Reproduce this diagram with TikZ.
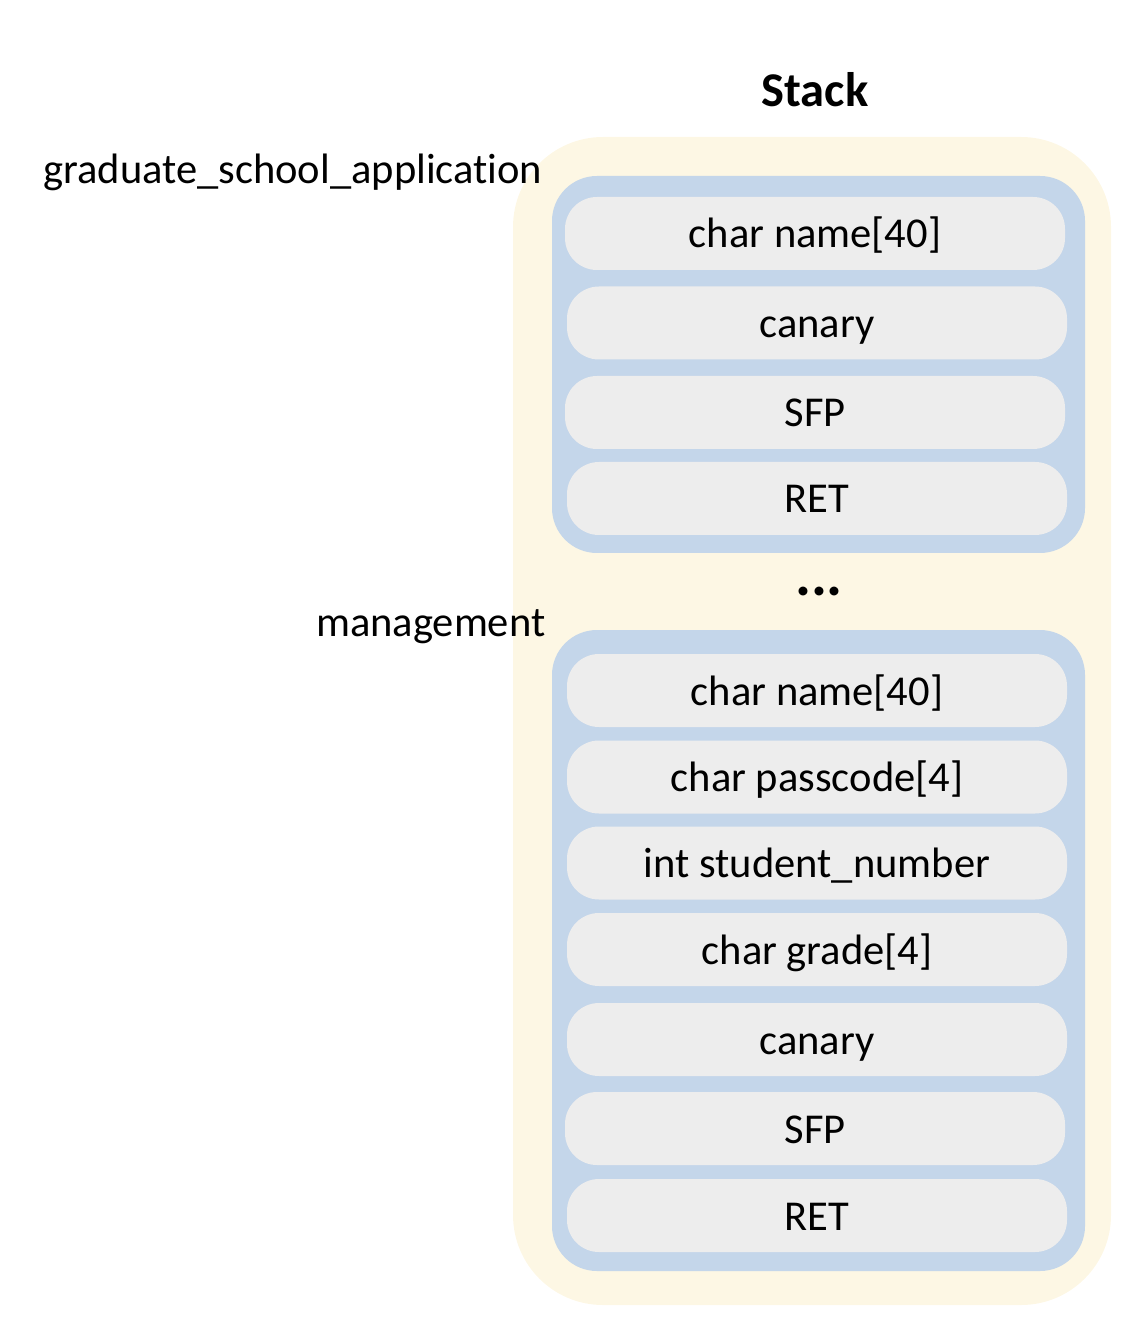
\documentclass[tikz,border=0pt]{standalone}
\usepackage{fontspec}
\setmainfont{Carlito}[Ligatures={NoCommon}]
\usetikzlibrary{positioning}
\definecolor{stackyellow}{RGB}{253,247,228}
\definecolor{frameblue}{RGB}{196,214,234}
\definecolor{slotgray}{RGB}{237,237,237}
\tikzset{
	stackbox/.style={fill=stackyellow,rounded corners=0.9cm,minimum width=5.98cm,minimum height=11.68cm,inner sep=0},
	framebox/.style={fill=frameblue,rounded corners=0.45cm,minimum width=5.33cm,inner sep=0},
	slot/.style={fill=slotgray,rounded corners=0.32cm,minimum width=5.0cm,minimum height=0.73cm,inner sep=0,text height=0.30cm,text depth=0.01cm,font=\fontsize{12.1}{14}\selectfont},
	fname/.style={anchor=base east,inner sep=0,font=\fontsize{12.1}{14}\selectfont}
}

\begin{document}
\begin{tikzpicture}
			\useasboundingbox (0,0) rectangle (11.32,-13.26);
			%Title
			\node[font=\fontsize{13.8}{16}\selectfont\bfseries] (title) at (8.15,-0.90) {Stack};
			\node[stackbox] (stack) at (8.12,-7.21) {};
			%Frame 1
			\node[framebox,minimum height=3.77cm] (frame1) at (8.185,-3.645) {};
			\node[fname] (fn1) at (5.43,-1.84) {graduate\_school\_application};
			\node[slot] (name1) at (8.15,-2.335) {char name[40]};
			\node[slot] (canary1) at (8.17,-3.23) {canary};
			\node[slot] (sfp1) at (8.15,-4.125) {SFP};
			\node[slot] (ret1) at (8.17,-4.985) {RET};
			%Gap
			\node[anchor=base,inner sep=0,font=\fontsize{17}{19}\selectfont\bfseries] (dots) at (8.19,-5.96) {...};
			%Frame 2
			\node[framebox,minimum height=6.41cm] (frame2) at (8.185,-9.505) {};
			\node[fname] (fn2) at (5.46,-6.36) {management};
			\node[slot] (name2) at (8.17,-6.905) {char name[40]};
			\node[slot] (pass2) at (8.17,-7.77) {char passcode[4]};
			\node[slot] (num2) at (8.17,-8.63) {int student\_number};
			\node[slot] (grade2) at (8.17,-9.495) {char grade[4]};
			\node[slot] (canary2) at (8.17,-10.395) {canary};
			\node[slot] (sfp2) at (8.15,-11.285) {SFP};
			\node[slot] (ret2) at (8.17,-12.155) {RET};
\end{tikzpicture}
\end{document}
